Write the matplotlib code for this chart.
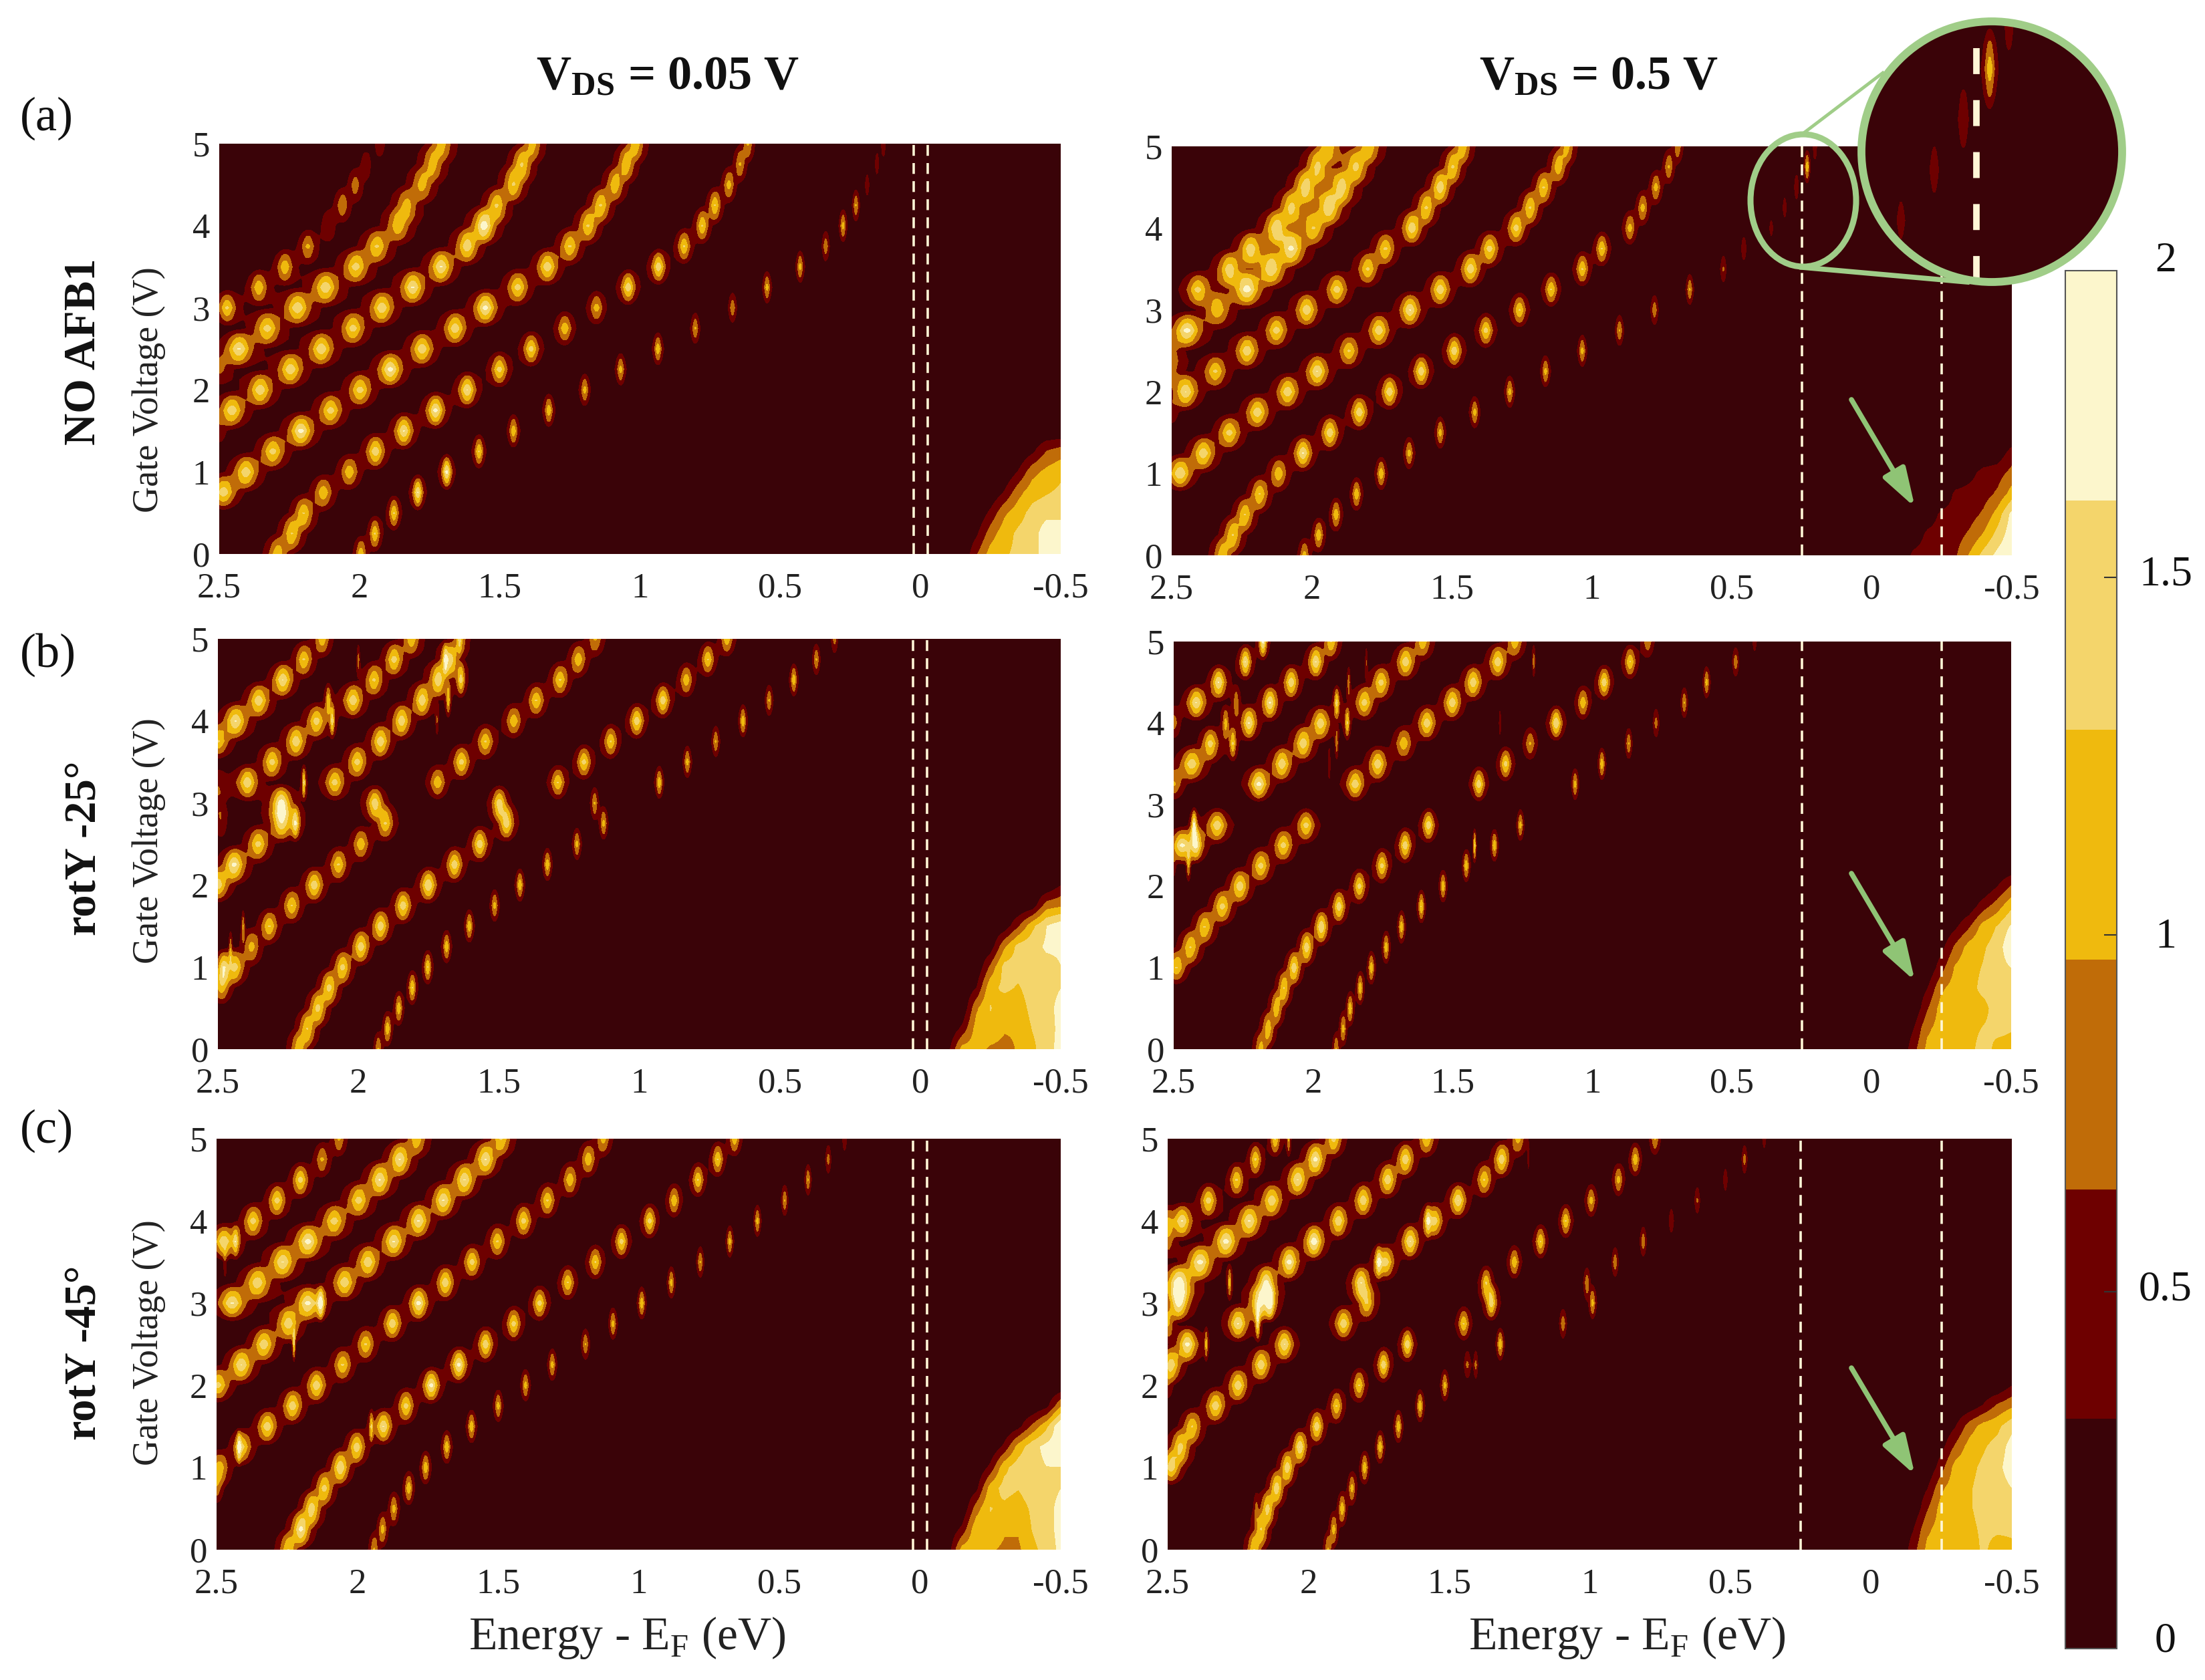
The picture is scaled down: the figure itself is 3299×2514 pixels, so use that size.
import numpy as np
import matplotlib
matplotlib.use('Agg')
import matplotlib.pyplot as plt
from matplotlib.colors import ListedColormap
from matplotlib.patches import Circle, Ellipse

plt.rcParams['font.family'] = ['Liberation Serif', 'DejaVu Serif']
plt.rcParams['mathtext.fontset'] = 'custom'
plt.rcParams['mathtext.rm'] = 'Liberation Serif'
plt.rcParams['mathtext.bf'] = 'Liberation Serif:bold'

# gate voltage is sampled every 0.25 V, every ridge is a list of peak energies per gate step
gate = np.arange(41) * 0.125
energy = np.linspace(-0.5, 2.5, 1501)
blob_energy = [-0.1, -0.15, -0.2, -0.25, -0.3, -0.35, -0.4, -0.45, -0.5]

xtick_vals = [2.5, 2, 1.5, 1, 0.5, 0, -0.5]
xtick_text = ['2.5', '2', '1.5', '1', '0.5', '0', '-0.5']
ytick_vals = [0, 1, 2, 3, 4, 5]
cbar_colors = ['#3a0308', '#6e0000', '#c06c08', '#efba0e', '#f4d56b', '#fcf6cc']
cbar_top = 1.93

row_names = ['NO AFB1', 'rotY -25°', 'rotY -45°']
row_letters = ['(a)', '(b)', '(c)']

# (a) left, VDS = 0.05 V
a1_start = [0, 0, 3, 7, 10, 12]
a1_sigma = [(.017, .008), (.032, .017), (.038, .028), (.038, .03), (.04, .035), (.028, .02)]
a1_E = [
    [1.995, 1.945, 1.877, 1.792, 1.689, 1.574, 1.451, 1.325, 1.197, 1.069, .936, .803, .670, .547, .429, .338, .276, .230, .190, .155, .132],
    [2.292, 2.241, 2.199, 2.129, 2.036, 1.943, 1.842, 1.729, 1.616, 1.501, 1.388, 1.268, 1.155, 1.042, .934, .843, .778, .733, .683, .643, .615],
    [2.485, 2.405, 2.309, 2.209, 2.103, 1.998, 1.890, 1.777, 1.659, 1.551, 1.436, 1.330, 1.250, 1.185, 1.140, 1.089, 1.049, 1.016],
    [2.455, 2.354, 2.246, 2.136, 2.023, 1.920, 1.810, 1.709, 1.616, 1.556, 1.511, 1.451, 1.421, 1.383],
    [2.430, 2.329, 2.221, 2.121, 2.013, 1.938, 1.862, 1.832, 1.777, 1.739, 1.707],
    [2.472, 2.359, 2.266, 2.184, 2.111, 2.061, 2.015, 1.978, 1.927],
]
a1_h = [
    [1.2, 1.3, 1.3, 1.6, 1.7, 1.3, 1.2, 1.2, 1.1, 1.1, 1.2, 1.0, .9, 1.1, 1.1, .9, 1.1, 1.0, .5, .5, .6],
    [1.2, 1.3, 1.3, 1.2, 1.2, 1.5, 1.6, 1.7, 1.6, 1.4, 1.4, 1.2, 1.1, 1.5, 1.5, 1.3, 1.3, 1.3, 1.1, 1.0, 1.0],
    [1.5, 1.5, 1.4, 1.7, 1.4, 1.4, 1.7, 1.5, 1.5, 1.7, 1.4, 1.5, 1.3, 1.3, 1.3, 1.2, 1.2, 1.2],
    [1.5, 1.5, 1.5, 1.5, 1.4, 1.5, 1.6, 1.6, 1.5, 1.8, 1.3, 1.3, 1.3, 1.1],
    [1.6, 1.4, 1.5, 1.5, 1.4, 1.3, 1.2, 1.1, 1.1, 1.1, 1.1],
    [1.3, 1.2, 1.2, 1.0, .6, .9, .8, .5, .5],
]
a1_extra = [[2.5, 9, .7, .04], [2.5, 6, .5, .03]]
a1_blob = [
    [0, 0, .6, 1.1, 1.25, 1.35, 1.5, 1.75, 1.9],
    [0, 0, .25, .8, 1.15, 1.35, 1.45, 1.8, 1.8],
    [0, 0, 0, .4, .9, 1.15, 1.4, 1.5, 1.5],
    [0, 0, 0, 0, .35, .85, 1.15, 1.25, 1.35],
    [0, 0, 0, 0, 0, .35, .85, 1.05, 1.2],
    [0, 0, 0, 0, 0, 0, .25, .65, .8],
]

# (a) right, VDS = 0.5 V
a2_start = [0, 0, 4, 8, 11, 13]
a2_sigma = [(.016, .007), (.03, .015), (.036, .024), (.035, .026), (.042, .035), (.035, .035)]
a2_E = [
    [2.026, 1.975, 1.913, 1.840, 1.752, 1.652, 1.541, 1.418, 1.293, 1.165, 1.034, .901, .776, .650, .530, .457, .359, .311, .269, .231, .203],
    [2.319, 2.282, 2.239, 2.186, 2.118, 2.031, 1.935, 1.830, 1.722, 1.609, 1.491, 1.378, 1.258, 1.145, 1.034, .964, .864, .818, .771, .725, .693],
    [2.470, 2.387, 2.294, 2.194, 2.086, 1.980, 1.867, 1.760, 1.649, 1.541, 1.433, 1.365, 1.270, 1.220, 1.172, 1.119, 1.089],
    [2.450, 2.344, 2.231, 2.126, 2.018, 1.910, 1.800, 1.737, 1.642, 1.591, 1.541, 1.496, 1.461],
    [2.445, 2.337, 2.231, 2.144, 2.073, 1.993, 1.938, 1.893, 1.842, 1.797],
    [2.407, 2.294, 2.219, 2.126, 2.073, 2.023, 1.980, 1.943],
]
a2_h = [
    [1.1, 1.2, 1.2, 1.2, 1.2, 1.1, 1.1, 1.1, 1.1, 1.1, 1.1, 1.0, .9, 1.0, .7, .6, .45, .5, .6, 1.2, .6],
    [1.2, 1.3, 1.3, 1.3, 1.2, 1.6, 1.5, 1.5, 1.5, 1.5, 1.5, 1.4, 1.3, 1.3, 1.3, 1.3, 1.1, 1.1, 1.1, 1.0, .9],
    [1.6, 1.5, 1.4, 1.5, 1.5, 1.6, 1.3, 1.5, 1.6, 1.5, 1.5, 1.4, 1.4, 1.3, 1.3, 1.2, 1.1],
    [1.6, 1.3, 1.5, 1.4, 1.5, 1.4, 1.3, 1.3, 1.5, 1.3, 1.5, 1.3, 1.2],
    [1.7, 1.2, 1.7, 1.5, 1.6, 1.2, 1.5, 1.4, 1.3, 1.2],
    [1.3, 1.4, 1.4, 1.5, 1.3, 1.4, 1.3, 1.2],
]
a2_extra = [[2.5, 9, .7, .03], [2.5, 7, .5, .03], [2.5, 10, .7, .04]]
a2_blob = [
    [.05, .4, .45, .5, .6, 1.0, 1.4, 1.7, 1.9],
    [0, .1, .4, .45, .5, .7, 1.0, 1.4, 1.8],
    [0, 0, .1, .4, .45, .5, .7, 1.1, 1.7],
    [0, 0, 0, 0, .4, .45, .5, .7, 1.1],
    [0, 0, 0, 0, 0, .2, .45, .5, .75],
    [0, 0, 0, 0, 0, 0, 0, .1, .45],
]

# (b) left
b1_start = [0, 0, 3, 8, 13, 16]
b1_sigma = [(.012, .01), (.027, .02), (.027, .025), (.033, .024), (.03, .026), (.035, .024)]
b1_E = [
    [1.929, 1.896, 1.856, 1.808, 1.753, 1.686, 1.605, 1.515, 1.425, 1.327, 1.222, 1.127, 1.159, .929, .829, .728, .631, .538, .450, .370, .305],
    [2.212, 2.182, 2.144, 2.104, 2.056, 1.991, 1.921, 1.841, 1.751, 1.658, 1.568, 1.473, 1.498, 1.290, 1.197, 1.102, 1.009, .916, .833, .756, .688],
    [2.487, 2.437, 2.380, 2.317, 2.237, 2.157, 2.071, 1.991, 1.904, 1.941, 1.718, 1.633, 1.548, 1.447, 1.367, 1.282, 1.217, 1.157],
    [2.5, 2.442, 2.357, 2.274, 2.274, 2.084, 2.004, 1.921, 1.846, 1.773, 1.716, 1.671, 1.638],
    [2.395, 2.307, 2.222, 2.149, 2.019, 1.944, 1.873, 1.811],
    [2.437, 2.355, 2.269, 2.194, 2.129],
]
b1_h = [
    [1.0, 1.2, 1.2, 1.3, 1.3, 1.2, 1.2, 1.1, 1.2, 1.2, 1.1, 1.1, 1.0, 1.2, 1.1, 1.0, 1.2, 1.0, 1.2, 1.0, .8],
    [1.2, 1.3, 1.4, 1.4, 1.4, 1.5, 1.5, 1.5, 1.6, 1.5, 1.5, 1.5, 1.5, 1.3, 1.4, 1.3, 1.5, 1.5, 1.2, 1.3, 1.2],
    [1.2, 1.2, 1.1, 1.3, 1.3, 1.5, 1.3, 1.2, 1.3, 1.5, 1.2, 1.4, 1.3, 1.2, 1.3, 1.3, 1.2, 1.0],
    [1.5, 1.7, 1.4, 1.5, 1.8, 1.4, 1.4, 1.5, 1.5, 1.5, 1.5, 1.3, .9],
    [1.5, 1.4, 1.5, 1.4, 1.5, 1.3, 1.4, 1.2],
    [1.6, 1.5, 1.6, 1.3, 1.2],
]
b1_extra = [
    [2.224, 11, 1.3, .012], [2.194, 13, 1.3, .005], [2.093, 16, 1.2, .006], [2.107, 17, 1.1, .008],
    [2.0, 19, .7, .004], [1.72, 16, .6, .004], [1.68, 17, 1.1, .006], [1.635, 18, 1.3, .012],
    [1.69, 19, 1.1, .008], [1.64, 20, .6, .006], [2.41, 6, .9, .004], [2.455, 5, .8, .004],
    [2.5, 15, 1.3, .035], [2.49, 11, .6, .02], [2.5, 12, .5, .03], [2.5, 13, .5, .03], [2.48, 4, 1.3, .02],
]
b1_blob = [
    [.2, 1.1, 1.1, .9, .85, 1.0, 1.2, 1.5, 1.7],
    [0, .4, 1.1, 1.2, 1.0, 1.0, 1.3, 1.45, 1.7],
    [0, 0, .9, 1.3, 1.1, 1.1, 1.4, 1.5, 1.7],
    [0, 0, .3, 1.2, 1.35, 1.25, 1.45, 1.5, 1.6],
    [0, 0, 0, .7, 1.4, 1.4, 1.5, 1.5, 1.6],
    [0, 0, 0, .1, .9, 1.4, 1.5, 1.65, 1.65],
    [0, 0, 0, 0, .1, .6, 1.2, 1.6, 1.8],
    [0, 0, 0, 0, 0, 0, .1, .8, .9],
    [0, 0, 0, 0, 0, 0, 0, 0, .3],
]

# (b) right
b2_start = [0, 0, 4, 11, 16, 17]
b2_sigma = [(.01, .009), (.02, .018), (.03, .025), (.03, .026), (.022, .022), (.028, .012)]
b2_E = [
    [1.918, 1.893, 1.868, 1.832, 1.792, 1.739, 1.684, 1.613, 1.535, 1.452, 1.351, 1.258, 1.167, 1.062, .966, .870, .772, .671, .591, .487, .419],
    [2.188, 2.162, 2.132, 2.105, 2.069, 2.024, 1.971, 1.908, 1.835, 1.754, 1.671, 1.587, 1.5, 1.407, 1.311, 1.223, 1.130, 1.034, .958, .865, .802],
    [2.49, 2.44, 2.389, 2.326, 2.263, 2.188, 2.107, 2.026, 1.95, 1.850, 1.769, 1.676, 1.593, 1.502, 1.427, 1.339, 1.278],
    [2.344, 2.27, 2.195, 2.112, 2.036, 1.974, 1.817, 1.757, 1.669, 1.608],
    [2.23, 2.155, 2.079, 1.991, 1.936],
    [2.419, 2.339, 2.243, 2.18],
]
b2_h = [
    [1.0, 1.1, 1.2, 1.2, 1.2, 1.2, 1.2, 1.3, 1.2, 1.2, 1.2, 1.1, 0, 1.1, 1.2, 1.0, .8, 1.0, 1.1, .9, .5],
    [1.1, 1.2, 1.2, 1.3, 1.5, 1.5, 1.6, 1.5, 1.4, 1.4, 1.5, 1.5, 0, 1.5, 1.4, 1.0, 1.6, 1.2, 1.5, 1.3, .9],
    [1.3, 1.3, 1.3, 1.4, 1.5, 1.4, 1.4, 1.4, 0, 1.5, 1.5, 1.2, 1.5, 1.5, 1.5, 1.5, 1.2],
    [1.5, 0, 1.7, 1.5, 1.5, 1.5, 1.4, 1.4, 1.5, 1.2],
    [1.6, 1.6, 1.5, 1.6, 1.3],
    [1.6, 1.6, 1.6, 1.7],
]
b2_extra = [
    [2.472, 10, 1.5, .03], [2.427, 11, 1.6, .008], [2.42, 10, 1.4, .02], [2.447, 9, 1.0, .006],
    [2.435, 14, 1.5, .035], [2.369, 15, 1.4, .025], [2.314, 16, 1.0, .01], [2.276, 17, .8, .01],
    [2.288, 15, 1.2, .01], [1.916, 17, 1.3, .008], [1.878, 16, 1.2, .007], [1.916, 15, .8, .004],
    [1.943, 14, .6, .003], [1.873, 18, .8, .004], [1.81, 19, .6, .003], [1.422, 10, 1.3, .004],
    [1.21, 19, .8, .004], [1.331, 16, .6, .003], [2.5, 16, .8, .02], [2.5, 13, 1.0, .03], [2.5, 9, .5, .01],
]
b2_blob = [
    [0, .5, 1.05, 1.1, 1.15, 1.2, 1.4, 1.2, 1.2],
    [0, .3, .9, 1.1, 1.15, 1.2, 1.3, 1.35, 1.3],
    [0, 0, .6, 1.1, 1.15, 1.2, 1.2, 1.4, 1.4],
    [0, 0, .3, .9, 1.1, 1.2, 1.35, 1.4, 1.45],
    [0, 0, 0, .5, 1.0, 1.2, 1.3, 1.45, 1.6],
    [0, 0, 0, .2, .7, 1.1, 1.25, 1.4, 1.9],
    [0, 0, 0, 0, .25, .6, 1.1, 1.3, 1.65],
    [0, 0, 0, 0, 0, .1, .5, .8, 1.2],
    [0, 0, 0, 0, 0, 0, 0, .3, .65],
]

# (c) left
c1_start = [0, 0, 4, 8, 12, 15]
c1_sigma = [(.014, .008), (.028, .017), (.03, .022), (.035, .03), (.04, .03), (.03, .02)]
c1_E = [
    [1.940, 1.910, 1.870, 1.817, 1.757, 1.682, 1.594, 1.499, 1.402, 1.307, 1.189, 1.091, .989, .884, .781, .676, .578, .481, .398, .326, .268],
    [2.245, 2.200, 2.162, 2.117, 2.060, 2.002, 1.907, 1.827, 1.737, 1.639, 1.544, 1.444, 1.352, 1.252, 1.154, 1.061, .961, .874, .789, .719, .659],
    [2.49, 2.407, 2.320, 2.230, 2.145, 2.052, 1.970, 1.875, 1.782, 1.687, 1.592, 1.502, 1.409, 1.324, 1.244, 1.179, 1.126],
    [2.495, 2.412, 2.332, 2.245, 2.177, 2.045, 1.962, 1.870, 1.782, 1.694, 1.619, 1.544, 1.489],
    [2.445, 2.355, 2.265, 2.175, 2.082, 1.995, 1.920, 1.849, 1.789],
    [2.475, 2.37, 2.285, 2.202, 2.125, 2.065],
]
c1_h = [
    [1.0, 1.1, 1.1, 1.2, 1.2, 1.2, 1.2, 1.1, 1.1, 1.1, 1.0, 1.1, 1.2, 1.1, 1.0, 1.1, 1.1, 1.0, 1.0, .8, .6],
    [1.3, 1.7, 1.5, 1.4, 1.6, 1.5, 1.6, 1.4, 1.7, 1.7, 1.5, 1.4, 1.4, 1.3, 1.3, 1.4, 1.4, 1.2, 1.3, 1.3, 1.2],
    [1.2, 1.2, 1.5, 1.5, 1.5, 1.3, 1.3, 1.5, 1.7, 1.5, 1.4, 1.3, 1.4, 1.3, 1.2, 1.2, 1.1],
    [1.4, 1.6, 1.5, 1.5, 1.6, 1.5, 1.5, 1.6, 1.6, 1.6, 1.6, 1.6, 1.3],
    [1.6, 1.5, 1.6, 1.7, 1.4, 1.4, 1.6, 1.6, 1.2],
    [1.5, 1.4, 1.4, 1.4, 1.0, 1.0],
]
c1_extra = [
    [2.432, 15, 1.1, .01], [2.13, 12, 1.6, .01], [2.225, 10, 1.3, .003], [2.42, 5, 1.2, .006],
    [1.95, 6, 1.0, .005], [2.5, 3, .9, .02], [2.47, 14, .5, .005],
]
c1_blob = [
    [.1, 1.1, 1.2, 1.0, .9, .9, 1.2, 1.4, 1.7],
    [0, .4, 1.2, 1.2, 1.0, 1.0, 1.3, 1.5, 1.7],
    [0, 0, .8, 1.3, 1.2, 1.1, 1.35, 1.5, 1.7],
    [0, 0, .2, 1.1, 1.4, 1.3, 1.5, 1.5, 1.6],
    [0, 0, 0, .4, 1.2, 1.45, 1.5, 1.6, 1.6],
    [0, 0, 0, 0, .4, 1.1, 1.5, 1.7, 1.8],
    [0, 0, 0, 0, 0, .2, .7, 1.2, 1.9],
    [0, 0, 0, 0, 0, 0, 0, .2, .9],
]

# (c) right
c2_start = [0, 0, 4, 9, 13, 16]
c2_sigma = [(.012, .008), (.022, .014), (.03, .022), (.03, .024), (.038, .025), (.028, .015)]
c2_E = [
    [1.930, 1.910, 1.880, 1.845, 1.800, 1.745, 1.680, 1.603, 1.515, 1.435, 1.318, 1.095, .990, 1.010, .910, .810, .710, .618, .518, .450, .380],
    [2.193, 2.168, 2.145, 2.113, 2.075, 2.030, 1.970, 1.900, 1.820, 1.733, 1.648, 1.448, 1.350, 1.368, 1.268, 1.175, 1.085, .995, .898, .838, .768],
    [2.488, 2.455, 2.413, 2.330, 2.250, 2.168, 2.085, 1.875, 1.793, 1.813, 1.723, 1.638, 1.550, 1.468, 1.375, 1.313, 1.255],
    [2.488, 2.430, 2.25, 2.175, 2.15, 2.068, 1.98, 1.893, 1.805, 1.718, 1.655, 1.58],
    [2.46, 2.385, 2.293, 2.21, 2.13, 2.038, 1.975, 1.91],
    [2.448, 2.355, 2.255, 2.188, 2.118],
]
c2_h = [
    [1.0, 1.1, 1.2, 1.1, 1.2, 1.2, 1.2, 1.2, 1.1, .7, 1.2, .9, 1.1, .9, .9, .9, .6, .7, .55, .8, .5],
    [1.3, 1.3, 1.4, 1.5, 1.5, 1.6, 1.5, 1.3, 1.3, 1.5, 1.5, 1.3, 1.5, 1.3, 1.2, 1.3, 1.3, 1.1, 1.1, 1.2, 1.0],
    [1.5, 1.4, 1.3, 1.5, 1.5, 1.5, 1.6, 1.5, 1.3, 1.6, 1.3, 1.6, 1.3, 1.6, 1.3, 1.5, 1.1],
    [1.5, 1.7, 1.6, 1.5, 1.7, 1.7, 1.8, 1.5, 1.5, 1.5, 1.5, 1.3],
    [1.9, 1.7, 1.7, 1.6, 1.5, 1.6, 1.7, 1.4],
    [1.5, 1.4, 1.3, 1.3, 1.3],
]
c2_extra = [
    [2.46, 12, 1.8, .03], [2.28, 13, 1.0, .005], [2.363, 10, .9, .004], [2.18, 11, 1.3, .006],
    [2.137, 12, 1.6, .015], [2.07, 20, .9, .005], [1.75, 14, 1.3, .01], [1.405, 9, .7, .006],
    [1.575, 16, 1.2, .01], [1.218, 19, .4, .003], [2.185, 2, .5, .006], [2.5, 11, 1.0, .02],
    [2.5, 8, .6, .02], [2.5, 15, .8, .025], [2.5, 16, .7, .02],
]
c2_blob = [
    [0, .5, 1.05, 1.1, 1.15, 1.1, 1.35, 1.1, 1.2],
    [0, .3, .9, 1.1, 1.15, 1.2, 1.35, 1.35, 1.35],
    [0, 0, .6, 1.1, 1.15, 1.25, 1.4, 1.45, 1.45],
    [0, 0, .3, .9, 1.15, 1.25, 1.4, 1.45, 1.6],
    [0, 0, 0, .5, 1.1, 1.2, 1.35, 1.5, 1.8],
    [0, 0, 0, .2, .7, 1.1, 1.25, 1.4, 1.75],
    [0, 0, 0, 0, .3, .8, 1.1, 1.2, 1.5],
    [0, 0, 0, 0, 0, .1, .35, .7, .9],
    [0, 0, 0, 0, 0, 0, 0, 0, .3],
]


def add_spot(Z, e, k, h, s):
    # lorentzian in energy, row k is a 0.25 V step, half rows carry the shoulder of the spot
    line = h / (1 + ((energy - e) / s) ** 2)
    Z[2 * k] += line
    if k > 0:
        Z[2 * k - 1] += 0.58 * line
    if k < 20:
        Z[2 * k + 1] += 0.58 * line


def build_field(E_list, starts, h_list, sigmas, extras, blob):
    Z = np.zeros((len(gate), len(energy)))
    for ridge, k0, hs, sig in zip(E_list, starts, h_list, sigmas):
        s = np.linspace(sig[0], sig[1], len(ridge))
        for i in range(len(ridge)):
            add_spot(Z, ridge[i], k0 + i, hs[i], s[i])
    for e, k, h, s in extras:
        add_spot(Z, e, k, h, s)
    prev = None
    for k, row in enumerate(blob):
        cur = np.interp(energy, blob_energy[::-1], row[::-1], right=0)
        Z[2 * k] += cur
        if prev is not None:
            Z[2 * k - 1] += 0.5 * (cur + prev)
        prev = cur
    Z[2 * len(blob) - 1] += 0.5 * prev
    return np.clip(Z, 0, cbar_top - 0.001)


W, H = 3299, 2514
DARK = cbar_colors[0]
GREEN = '#a0cd88'
ARROW = '#8fc475'
CREAM = '#fff6d6'
levels = np.linspace(0, cbar_top, 7)
cmap = ListedColormap(cbar_colors)

fig = plt.figure(figsize=(W / 100, H / 100), dpi=100)


def px_axes(x0, x1, y0, y1, **kw):
    return fig.add_axes([x0 / W, 1 - y1 / H, (x1 - x0) / W, (y1 - y0) / H], **kw)


panels = [
    (a1_E, a1_start, a1_h, a1_sigma, a1_extra, a1_blob, (328, 1587, 215, 829), (.025, -.025)),
    (a2_E, a2_start, a2_h, a2_sigma, a2_extra, a2_blob, (1753, 3010, 219, 831), (.25, -.25)),
    (b1_E, b1_start, b1_h, b1_sigma, b1_extra, b1_blob, (326, 1587, 956, 1570), (.025, -.025)),
    (b2_E, b2_start, b2_h, b2_sigma, b2_extra, b2_blob, (1756, 3009, 960, 1570), (.25, -.25)),
    (c1_E, c1_start, c1_h, c1_sigma, c1_extra, c1_blob, (324, 1587, 1704, 2319), (.025, -.025)),
    (c2_E, c2_start, c2_h, c2_sigma, c2_extra, c2_blob, (1747, 3010, 1704, 2319), (.25, -.25)),
]

fields = []
for p in panels:
    Z = build_field(p[0], p[1], p[2], p[3], p[4], p[5])
    fields.append(Z)
    ax = px_axes(*p[6], facecolor=DARK)
    cs = ax.contourf(energy, gate, Z, levels=levels, cmap=cmap)
    ax.set_xlim(2.5, -0.5)
    ax.set_ylim(0, 5)
    ax.set_xticks(xtick_vals, xtick_text)
    ax.set_yticks(ytick_vals)
    ax.tick_params(axis='x', length=0, pad=20, labelsize=38, colors='#222222')
    ax.tick_params(axis='y', length=0, pad=10, labelsize=38, colors='#222222')
    for sp in ax.spines.values():
        sp.set_visible(False)
    for e in p[7]:
        ax.axvline(e, color=CREAM, lw=2.6, dashes=(4.5, 3))

# colorbar
cax = px_axes(3090, 3167, 405, 2467)
cb = fig.colorbar(cs, cax=cax, ticks=[.5, 1, 1.5])
cb.ax.tick_params(length=14, width=1.5, direction='in', labelright=False, color='#333333')
cb.outline.set_edgecolor('#555555')
cb.outline.set_linewidth(1.5)

# magnifier on the top right panel
ins = px_axes(2785, 3175, 32, 422, zorder=5, facecolor=DARK)
ins.contourf(energy, gate, fields[1], levels=levels, cmap=cmap)
ins.axvline(.25, color=CREAM, lw=7, dashes=(4, 4))
ins.set_xlim(.228 + .188, .228 - .188)
ins.set_ylim(4.34 - .645, 4.34 + .645)
ins.axis('off')
clip = Circle((.5, .5), .5, transform=ins.transAxes)
for art in ins.get_children():
    if art is not ins.patch:
        art.set_clip_path(clip)

ov = fig.add_axes([0, 0, 1, 1], zorder=10)
ov.set_xlim(0, W)
ov.set_ylim(H, 0)
ov.axis('off')
ov.add_patch(Circle((2980, 227), 195, fill=False, ec=GREEN, lw=8.5))
ov.add_patch(Ellipse((2698, 300), 158, 198, fill=False, ec=GREEN, lw=6.5))
ov.plot([2696, 2817], [201, 109], color=GREEN, lw=3.5)
ov.plot([2696, 2943], [400, 422], color=GREEN, lw=5.5)

for y0, y1 in [(598, 759), (1307, 1468), (2047, 2207)]:
    ov.annotate('', xy=(2865, y1), xytext=(2770, y0),
                arrowprops=dict(arrowstyle='-|>,head_length=0.5,head_width=0.16', lw=5.5, color=ARROW,
                                mutation_scale=70, shrinkA=0, shrinkB=0))

# text
tc = '#111111'
ov.text(999, 116, r'$\mathbf{V_{DS}}$ = 0.05 V', fontsize=52, fontweight='bold', ha='center', va='center', color=tc)
ov.text(2392, 116, r'$\mathbf{V_{DS}}$ = 0.5 V', fontsize=52, fontweight='bold', ha='center', va='center', color=tc)
for name, letter, yl, yg, yn in zip(row_names, row_letters, [177, 980, 1692], [583, 1258, 2009], [526, 1269, 2024]):
    ov.text(30, yl, letter, fontsize=52, ha='left', va='center', color=tc)
    ov.text(223, yg, 'Gate Voltage (V)', fontsize=39, rotation=90, ha='center', va='center', color='#222222')
    ov.text(126, yn, name, fontsize=48, fontweight='bold', rotation=90, ha='center', va='center', color=tc)
for x in [938, 2434]:
    ov.text(x, 2451, r'Energy - E$_{\mathrm{F}}$ (eV)', fontsize=50, ha='center', va='center', color='#222222')
for lab, y in zip(['2', '1.5', '1', '0.5', '0'], [391, 860, 1403, 1931, 2457]):
    ov.text(3240, y, lab, fontsize=46, ha='center', va='center', color=tc)

fig.savefig('out.png', dpi=100)
